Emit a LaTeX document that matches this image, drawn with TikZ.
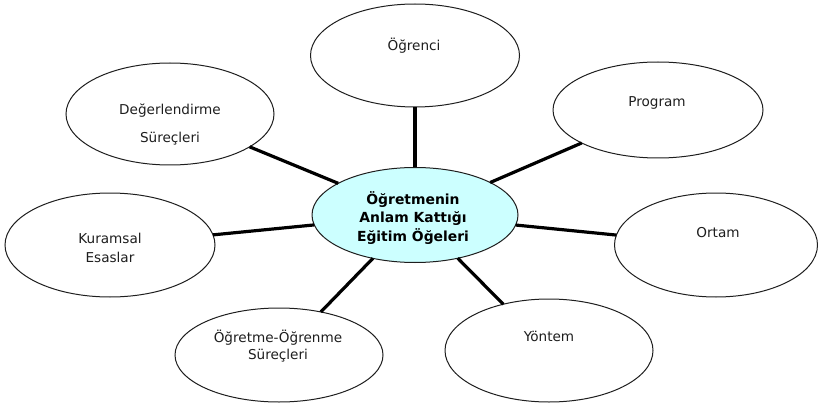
\documentclass[tikz,border=0pt]{standalone}
\usepackage{fontspec}
\setmainfont{DejaVu Sans}
\usetikzlibrary{shapes.geometric}
\definecolor{centerfill}{RGB}{204,255,255}
\definecolor{inkgray}{RGB}{30,30,30}
\tikzset{
  oval/.style={ellipse, draw=inkgray, line width=1pt, inner sep=0pt, outer sep=0pt, fill=white},
  spoke/.style={line width=3.2pt, black},
  lbl/.style={align=center, inner sep=0pt, text=inkgray, font=\fontsize{13.6}{17}\selectfont},
  clbl/.style={align=center, inner sep=0pt, text=black, font=\bfseries\fontsize{13.9}{18.5}\selectfont}
}
\begin{document}
\begin{tikzpicture}[x=1pt,y=-1pt]
\useasboundingbox (0,0) rectangle (818,406);
% ellipses
\node[oval, fill=centerfill, minimum width=206pt, minimum height=95pt] (c) at (415,215) {};
\node[oval, minimum width=209pt, minimum height=103pt] (ogr) at (415,55.5) {};
\node[oval, minimum width=210pt, minimum height=96pt] (prg) at (658,110) {};
\node[oval, minimum width=203pt, minimum height=104pt] (ort) at (716,245) {};
\node[oval, minimum width=208pt, minimum height=103pt] (yon) at (549,350.5) {};
\node[oval, minimum width=208pt, minimum height=94pt] (oo) at (279,355) {};
\node[oval, minimum width=210pt, minimum height=104pt] (kur) at (110,245) {};
\node[oval, minimum width=208pt, minimum height=102pt] (deg) at (170,114) {};
% spokes
\foreach \n in {ogr,prg,ort,yon,oo,kur,deg}
  \draw[spoke] (c) -- (\n);
% labels
\node[clbl] (tc) at (413,218) {Öğretmenin\\Anlam Kattığı\\Eğitim Öğeleri};
\node[lbl] (togr) at (414,46) {Öğrenci};
\node[lbl] (tprg) at (657,103) {Program};
\node[lbl] (tort) at (718,233) {Ortam};
\node[lbl] (tyon) at (549,336) {Yöntem};
\node[lbl] (too) at (278,346.5) {Öğretme-Öğrenme\\Süreçleri};
\node[lbl, font=\fontsize{13.6}{19}\selectfont] (tkur) at (110,247.5) {Kuramsal\\Esaslar};
\node[lbl, font=\fontsize{13.6}{28}\selectfont] (tdeg) at (170,124) {Değerlendirme\\Süreçleri};
\end{tikzpicture}
\end{document}
